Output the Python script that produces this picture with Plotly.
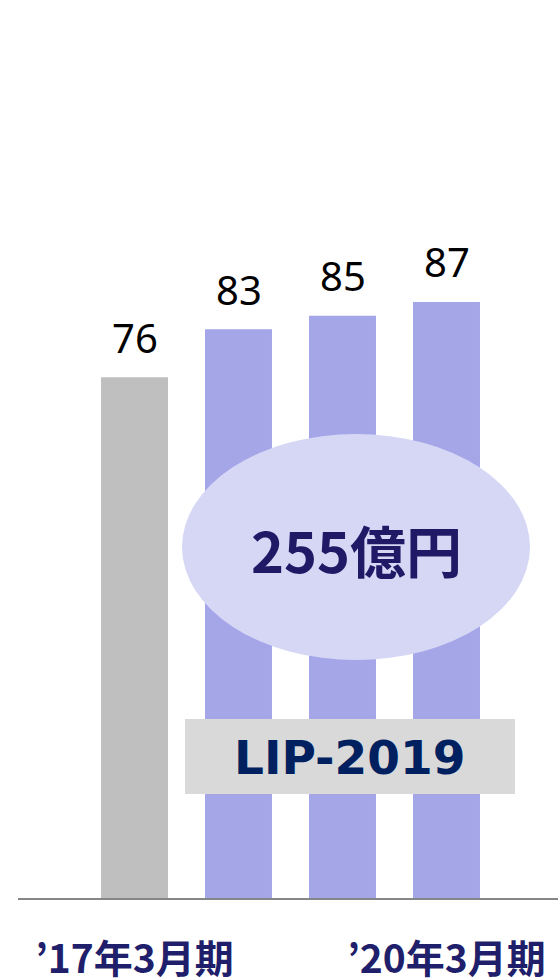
import plotly.graph_objects as go

# Data
periods = ["’17年3月期", "’18年3月期", "’19年3月期", "’20年3月期"]
values = [76, 83, 85, 87]
bar_colors = ["#bfbfbf", "#a5a6e8", "#a5a6e8", "#a5a6e8"]
tick_positions = [0, 3]
tick_labels = ["’17年3月期", "’20年3月期"]
total_label = "255億円"
plan_label = "LIP-2019"

W, H = 558, 980
ML, MR, MT, MB = 18, 0, 0, 82
plot_w = W - ML - MR
plot_h = H - MT - MB

xs = list(range(len(values)))

fig = go.Figure()
fig.add_trace(go.Bar(
    x=xs, y=values, width=0.644,
    marker=dict(color=bar_colors, line=dict(width=0)),
    hoverinfo="skip",
))

for x, v in zip(xs, values):
    fig.add_annotation(
        x=x, y=v, xref="x", yref="y", text=str(v), showarrow=False,
        xanchor="center", yanchor="middle", yshift=40,
        font=dict(family="Noto Sans", size=40, color="#000000"),
    )

def px_x(p):
    return (p - ML) / plot_w

def px_y(p):
    return 1 - (p - MT) / plot_h

# ellipse
fig.add_shape(type="circle", xref="paper", yref="paper",
              x0=px_x(182), x1=px_x(530), y0=px_y(660), y1=px_y(434),
              fillcolor="#d6d7f5", line=dict(width=0), layer="above")
# grey box
fig.add_shape(type="rect", xref="paper", yref="paper",
              x0=px_x(185), x1=px_x(515), y0=px_y(794), y1=px_y(719),
              fillcolor="#d9d9d9", line=dict(width=0), layer="above")

fig.add_annotation(xref="paper", yref="paper", x=px_x(356), y=px_y(548),
                   xanchor="center", yanchor="middle",
                   text=total_label, showarrow=False,
                   font=dict(family="Noto Sans CJK JP", size=56, color="#1f1a66", weight="bold"))
fig.add_annotation(xref="paper", yref="paper", x=px_x(349), y=px_y(757),
                   xanchor="center", yanchor="middle",
                   text=plan_label, showarrow=False,
                   font=dict(family="DejaVu Sans", size=47, color="#002060", weight="bold"))

fig.update_layout(
    width=W, height=H,
    margin=dict(l=ML, r=MR, t=MT, b=MB, autoexpand=False),
    paper_bgcolor="white", plot_bgcolor="white",
    showlegend=False,
    xaxis=dict(
        range=[(ML - 134.5) / 104, (W - 134.5) / 104],
        tickvals=tick_positions, ticktext=tick_labels,
        ticks="outside", ticklen=26, tickcolor="rgba(0,0,0,0)",
        tickfont=dict(family="Noto Sans CJK JP", size=39, color="#1f1f6b", weight="bold"),
        showline=True, linecolor="#868686", linewidth=2,
        showgrid=False, zeroline=False, fixedrange=True, automargin=False,
    ),
    yaxis=dict(range=[0, plot_h / 6.851], visible=False, showgrid=False,
               zeroline=False, automargin=False),
)

fig.write_html("out.html", config={"displayModeBar": False},
               post_script="document.body.style.margin='0';document.body.style.overflow='hidden';")
